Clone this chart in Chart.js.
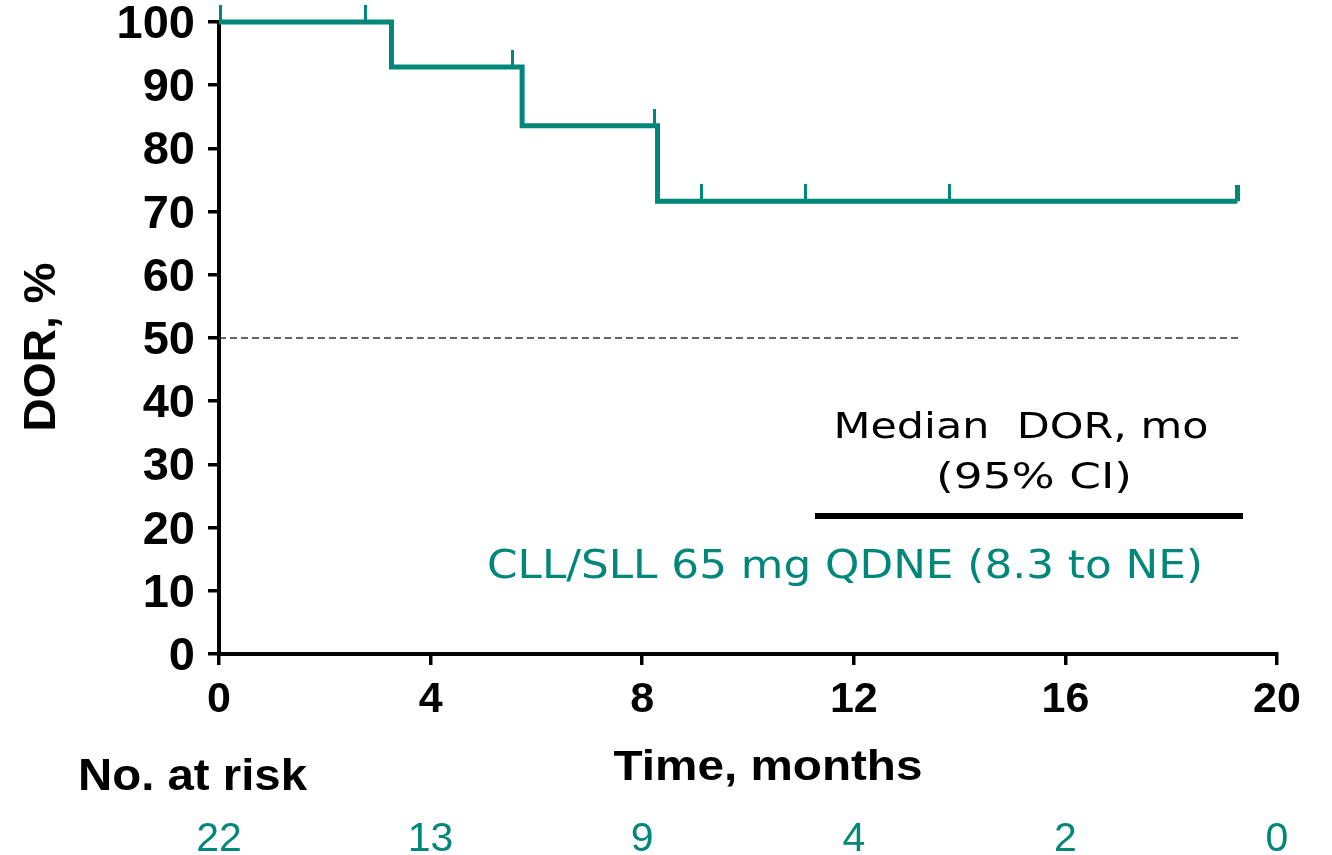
<!DOCTYPE html>
<html><head><meta charset="utf-8">
<script src="https://cdn.jsdelivr.net/npm/chart.js@4.4.1/dist/chart.umd.min.js"></script>
<style>html,body{margin:0;padding:0;background:#fff;overflow:hidden}#wrap{width:1332px;height:855px;position:relative}canvas{display:block}</style>
</head><body><div id="wrap"><canvas id="c" width="1332" height="855"></canvas></div>
<script>
// ---- data ----
const kmTimes = [0, 3.26, 5.73, 8.29, 19.25];
const kmSurvival = [100, 92.86, 83.57, 71.63, 71.63];
const censorTimes = [0.03, 2.76, 5.55, 8.23, 9.12, 11.08, 13.81, 19.25];
const censorSurvival = [100, 100, 92.86, 83.57, 71.63, 71.63, 71.63, 71.63];
const refLineTimes = [0, 19.3];
const refLineValues = [50, 50];
const xTickValues = [0, 4, 8, 12, 16, 20];
const yTickValues = [0, 10, 20, 30, 40, 50, 60, 70, 80, 90, 100];
const riskTimes = [0, 4, 8, 12, 16, 20];
const riskCounts = [22, 13, 9, 4, 2, 0];
const yTitle = 'DOR, %';
const xTitle = 'Time, months';
const riskTitle = 'No. at risk';
const annoHeader1 = 'Median  DOR, mo';
const annoHeader2 = '(95% CI)';
const annoSeries = 'CLL/SLL 65 mg QDNE (8.3 to NE)';

const TEAL = '#00877A';
const SANS = '"Liberation Sans", Arial, sans-serif';
const VSANS = '"DejaVu Sans", Verdana, sans-serif';

function censorMark(w, h) {
  const c = document.createElement('canvas');
  c.width = w; c.height = h * 2;
  const g = c.getContext('2d');
  g.fillStyle = TEAL;
  g.fillRect(0, 0, w, h);
  return c;
}
const markThin = censorMark(3, 17);
const markThick = censorMark(5, 16);
const censorStyles = censorTimes.map((t, i) => i === censorTimes.length - 1 ? markThick : markThin);

function drawText(ctx, s, x, y, font, color, align, width, rot) {
  ctx.save();
  ctx.font = font;
  ctx.fillStyle = color;
  ctx.textBaseline = 'alphabetic';
  ctx.textAlign = align;
  ctx.translate(x, y);
  if (rot) ctx.rotate(rot);
  if (width) {
    const m = ctx.measureText(s).width;
    ctx.scale(width / m, 1);
  }
  ctx.fillText(s, 0, 0);
  ctx.restore();
}

const textPlugin = {
  id: 'texts',
  afterDraw(chart) {
    const ctx = chart.ctx;
    const xs = chart.scales.x;
    drawText(ctx, yTitle, 55, 347, 'bold 44px ' + SANS, '#000', 'center', 169, -Math.PI / 2);
    drawText(ctx, xTitle, 768, 780, 'bold 43px ' + SANS, '#000', 'center', 309);
    drawText(ctx, riskTitle, 78, 790, 'bold 45px ' + SANS, '#000', 'left', 229);
    riskTimes.forEach((t, i) => {
      drawText(ctx, String(riskCounts[i]), xs.getPixelForValue(t), 851, '41px ' + SANS, TEAL, 'center');
    });
    drawText(ctx, annoHeader1, 1021, 438, '35px ' + VSANS, '#000', 'center', 375);
    drawText(ctx, annoHeader2, 1034, 488, '35px ' + VSANS, '#000', 'center', 196);
    ctx.save();
    ctx.fillStyle = '#000';
    ctx.fillRect(815, 513, 428, 6);
    ctx.restore();
    drawText(ctx, annoSeries, 845, 578, '39px ' + VSANS, TEAL, 'center', 716);
  }
};

const axisCommon = {
  grid: { display: true, drawOnChartArea: false, drawTicks: true, tickLength: 11, color: '#000', lineWidth: 3.5 },
  border: { display: true, color: '#000', width: 4 },
};

new Chart(document.getElementById('c'), {
  type: 'line',
  data: {
    datasets: [
      {
        label: 'ref50',
        data: refLineTimes.map((t, i) => ({ x: t, y: refLineValues[i] })),
        borderColor: '#333',
        borderWidth: 1.4,
        borderDash: [7, 4],
        pointRadius: 0,
        order: 3
      },
      {
        label: 'KM',
        data: kmTimes.map((t, i) => ({ x: t, y: kmSurvival[i] })),
        borderColor: TEAL,
        borderWidth: 5,
        stepped: 'before',
        pointRadius: 0,
        fill: false,
        order: 2,
        clip: false
      },
      {
        label: 'censored',
        data: censorTimes.map((t, i) => ({ x: t, y: censorSurvival[i] })),
        showLine: false,
        pointStyle: censorStyles,
        pointRadius: 6,
        order: 1,
        clip: false
      }
    ]
  },
  options: {
    responsive: false,
    animation: false,
    devicePixelRatio: 1,
    layout: { padding: { top: 0, right: 55, bottom: 0, left: 0 } },
    plugins: { legend: { display: false }, tooltip: { enabled: false } },
    scales: {
      x: {
        type: 'linear', min: 0, max: 20,
        afterBuildTicks: s => { s.ticks = xTickValues.map(v => ({ value: v })); },
        afterFit: s => { s.height = 201; s.paddingRight = 0; s.paddingLeft = 0; },
        ticks: { color: '#000', font: { family: SANS, size: 43, weight: 'bold' }, padding: 9, maxRotation: 0, autoSkip: false },
        ...axisCommon
      },
      y: {
        type: 'linear', min: 0, max: 100,
        afterBuildTicks: s => { s.ticks = yTickValues.map(v => ({ value: v })); },
        afterFit: s => { s.width = 219; s.paddingTop = 22; s.paddingBottom = 0; },
        ticks: { color: '#000', font: { family: SANS, size: 47, weight: 'bold' }, padding: 13, labelOffset: 3, autoSkip: false },
        ...axisCommon
      }
    }
  },
  plugins: [textPlugin]
});
</script>
</body></html>
